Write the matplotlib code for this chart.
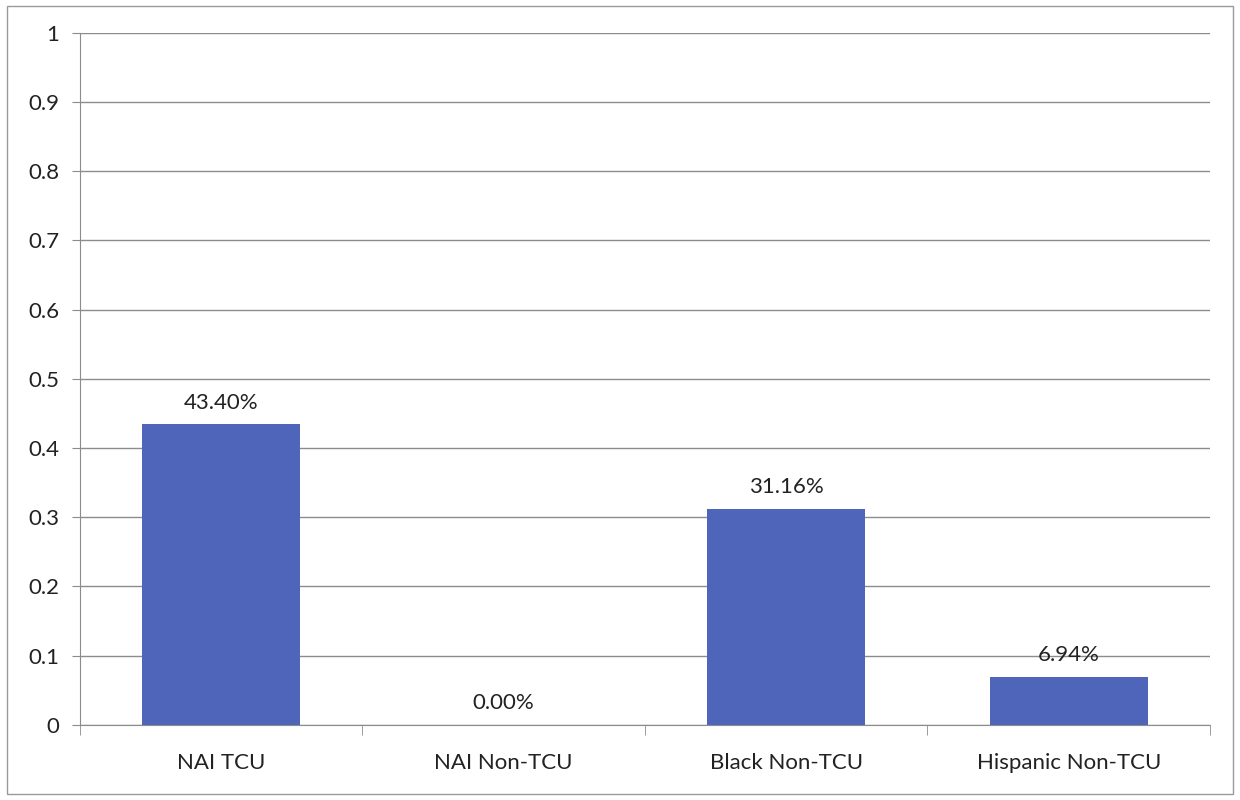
import matplotlib.pyplot as plt
from matplotlib.patches import Rectangle
import numpy as np

categories = ['NAI TCU', 'NAI Non-TCU', 'Black Non-TCU', 'Hispanic Non-TCU']
values = [0.4340, 0.0, 0.3116, 0.0694]
labels = ['43.40%', '0.00%', '31.16%', '6.94%']

plt.rcParams['font.family'] = ['Lato', 'DejaVu Sans']

fig = plt.figure(figsize=(12.4, 8.0), dpi=100)
ax = fig.add_axes([0.0645, 0.094, 0.9113, 0.865])

# outer chart border
fig.patches.append(Rectangle((0.006, 0.008), 0.988, 0.984, transform=fig.transFigure,
                             fill=False, edgecolor='#9a9a9a', linewidth=1.0))

x = np.arange(len(categories))
ax.bar(x, values, width=0.56, color='#4f65b9', zorder=3)

for xi, v, lab in zip(x, values, labels):
    ax.text(xi, v + 0.017, lab, ha='center', va='bottom', fontsize=16, color='#222222')

ax.set_xlim(-0.5, len(categories) - 0.5)
ax.set_ylim(0, 1)
ax.set_yticks(np.arange(0, 1.01, 0.1))
ax.set_yticklabels(['0', '0.1', '0.2', '0.3', '0.4', '0.5', '0.6', '0.7', '0.8', '0.9', '1'])
ax.set_xticks(x)
ax.set_xticklabels(categories)
ax.set_xticks(np.arange(-0.5, len(categories)), minor=True)

ax.grid(axis='y', color='#8c8c8c', linewidth=1.0, zorder=0)
ax.tick_params(axis='x', which='major', length=0, pad=20, labelsize=16, labelcolor='#222222')
ax.tick_params(axis='x', which='minor', length=7, color='#8c8c8c', direction='out')
ax.tick_params(axis='y', length=6, color='#8c8c8c', labelsize=16, pad=9, labelcolor='#222222')

for s in ['top', 'right']:
    ax.spines[s].set_visible(False)
ax.spines['left'].set_color('#8c8c8c')
ax.spines['bottom'].set_color('#8c8c8c')

fig.savefig('out.png', dpi=100)
